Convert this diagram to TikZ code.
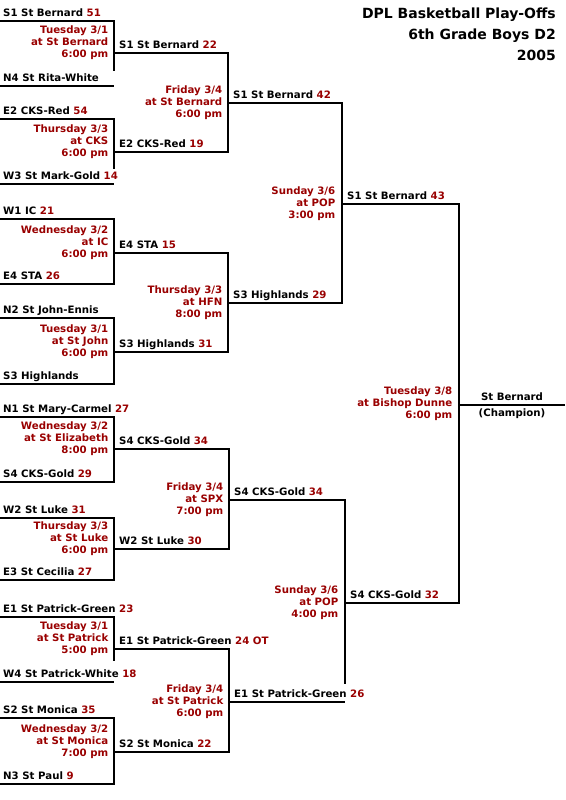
\documentclass[tikz,border=0pt]{standalone}
\usepackage{fontspec}
\setmainfont{DejaVu Sans}
\usepackage{tikz}
\definecolor{sched}{RGB}{153,0,0}
\newcommand{\pts}[1]{\textcolor{sched}{#1}}

\begin{document}
\begin{tikzpicture}[
    x=1pt, y=-1pt,
    bracket/.style={line width=2pt},
    seed/.style={anchor=base west, inner sep=0pt, xshift=3pt, yshift=4.4pt},
    team/.style={anchor=base west, inner sep=0pt, xshift=5pt, yshift=4.4pt},
    when/.style={anchor=base east, inner sep=0pt, align=right, text=sched, xshift=-5.5pt},
    early/.style={when, yshift=-4.3pt},
    late/.style={when, yshift=-14.3pt},
    font=\fontsize{10.2}{12}\selectfont\bfseries
]
    \useasboundingbox (0,0) rectangle (565,800);

    % 标题
    \node[anchor=base east, inner sep=0pt, align=right,
          font=\fontsize{14}{20.8}\selectfont\bfseries] (title) at (556,60)
        {DPL Basketball Play-Offs\\6th Grade Boys D2\\2005};

    % 第一轮位置 (16 个)
    \coordinate (s1)  at (0,20.7);
    \coordinate (s2)  at (0,85.7);
    \coordinate (s3)  at (0,119);
    \coordinate (s4)  at (0,184);
    \coordinate (s5)  at (0,219);
    \coordinate (s6)  at (0,284);
    \coordinate (s7)  at (0,318);
    \coordinate (s8)  at (0,384);
    \coordinate (s9)  at (0,417);
    \coordinate (s10) at (0,482);
    \coordinate (s11) at (0,517.7);
    \coordinate (s12) at (0,580);
    \coordinate (s13) at (0,617);
    \coordinate (s14) at (0,681.7);
    \coordinate (s15) at (0,717.7);
    \coordinate (s16) at (0,784);

    % 第二轮位置
    \coordinate (q1) at (114,53);
    \coordinate (q2) at (114,152);
    \coordinate (q3) at (114,252.7);
    \coordinate (q4) at (114,351.7);
    \coordinate (q5) at (114,449.3);
    \coordinate (q6) at (114,549.3);
    \coordinate (q7) at (114,649.3);
    \coordinate (q8) at (114,751.7);

    % 半决赛, 决赛, 冠军
    \coordinate (h1) at (228,103);
    \coordinate (h2) at (228,302.7);
    \coordinate (h3) at (229,500);
    \coordinate (h4) at (229,701.7);
    \coordinate (f1) at (342,203.7);
    \coordinate (f2) at (345,603.3);
    \coordinate (c)  at (459,405);
    \coordinate (ce) at (565,405);

    % --- 第一轮的线 ---
    \draw[bracket] (s1) -| (q1) -- ++(0,18);
    \draw[bracket] (s2) -- (s2 -| q1);
    \draw[bracket] (s3) -| (q2) -- ++(0,17);
    \draw[bracket] (s4) -- (s4 -| q2);
    \draw[bracket] (s5) -| (q3) |- (s6);
    \draw[bracket] (s7) -| (q4) |- (s8);
    \draw[bracket] (s9) -| (q5) |- (s10);
    \draw[bracket] (s11) -| (q6) |- (s12);
    \draw[bracket] (s13) -| (q7) -- ++(0,12);
    \draw[bracket] (s14) -- (s14 -| q7);
    \draw[bracket] (s15) -| (q8) |- (s16);

    % --- 后面几轮的线 ---
    \draw[bracket] (q1) -| (h1) |- (q2);
    \draw[bracket] (q3) -| (h2) |- (q4);
    \draw[bracket] (q5) -| (h3) |- (q6);
    \draw[bracket] (q7) -| (h4) |- (q8);
    \draw[bracket] (h1) -| (f1) |- (h2);
    \draw[bracket] (h3) -| (f2) -- ++(0,81);
    \draw[bracket] (h4) -- (h4 -| f2);
    \draw[bracket] (f1) -| (c) |- (f2);
    \draw[bracket] (c) -- (ce);

    % --- 第一轮球队 ---
    \node[seed] (t1)  at (s1)  {S1 St Bernard \pts{51}};
    \node[seed] (t2)  at (s2)  {N4 St Rita-White};
    \node[seed] (t3)  at (s3)  {E2 CKS-Red \pts{54}};
    \node[seed] (t4)  at (s4)  {W3 St Mark-Gold \pts{14}};
    \node[seed] (t5)  at (s5)  {W1 IC \pts{21}};
    \node[seed] (t6)  at (s6)  {E4 STA \pts{26}};
    \node[seed] (t7)  at (s7)  {N2 St John-Ennis};
    \node[seed] (t8)  at (s8)  {S3 Highlands};
    \node[seed] (t9)  at (s9)  {N1 St Mary-Carmel \pts{27}};
    \node[seed] (t10) at (s10) {S4 CKS-Gold \pts{29}};
    \node[seed] (t11) at (s11) {W2 St Luke \pts{31}};
    \node[seed] (t12) at (s12) {E3 St Cecilia \pts{27}};
    \node[seed] (t13) at (s13) {E1 St Patrick-Green \pts{23}};
    \node[seed] (t14) at (s14) {W4 St Patrick-White \pts{18}};
    \node[seed] (t15) at (s15) {S2 St Monica \pts{35}};
    \node[seed] (t16) at (s16) {N3 St Paul \pts{9}};

    % --- 第一轮时间地点 ---
    \node[early] (g1) at (q1) {Tuesday 3/1\\at St Bernard\\6:00 pm};
    \node[early] (g2) at (q2) {Thursday 3/3\\at CKS\\6:00 pm};
    \node[early] (g3) at (q3) {Wednesday 3/2\\at IC\\6:00 pm};
    \node[early] (g4) at (q4) {Tuesday 3/1\\at St John\\6:00 pm};
    \node[early] (g5) at (q5) {Wednesday 3/2\\at St Elizabeth\\8:00 pm};
    \node[early] (g6) at (q6) {Thursday 3/3\\at St Luke\\6:00 pm};
    \node[early] (g7) at (q7) {Tuesday 3/1\\at St Patrick\\5:00 pm};
    \node[early] (g8) at (q8) {Wednesday 3/2\\at St Monica\\7:00 pm};

    % --- 第二轮 ---
    \node[team] (w1) at (q1) {S1 St Bernard \pts{22}};
    \node[team] (w2) at (q2) {E2 CKS-Red \pts{19}};
    \node[team] (w3) at (q3) {E4 STA \pts{15}};
    \node[team] (w4) at (q4) {S3 Highlands \pts{31}};
    \node[team] (w5) at (q5) {S4 CKS-Gold \pts{34}};
    \node[team] (w6) at (q6) {W2 St Luke \pts{30}};
    \node[team] (w7) at (q7) {E1 St Patrick-Green \pts{24 OT}};
    \node[team] (w8) at (q8) {S2 St Monica \pts{22}};
    \node[late] (k1) at (h1) {Friday 3/4\\at St Bernard\\6:00 pm};
    \node[late] (k2) at (h2) {Thursday 3/3\\at HFN\\8:00 pm};
    \node[late] (k3) at (h3) {Friday 3/4\\at SPX\\7:00 pm};
    \node[late] (k4) at (h4) {Friday 3/4\\at St Patrick\\6:00 pm};

    % --- 半决赛 ---
    \node[team] (x1) at (h1) {S1 St Bernard \pts{42}};
    \node[team] (x2) at (h2) {S3 Highlands \pts{29}};
    \node[team] (x3) at (h3) {S4 CKS-Gold \pts{34}};
    \node[team] (x4) at (h4) {E1 St Patrick-Green \pts{26}};
    \node[late, xshift=-1pt] (m1) at (f1) {Sunday 3/6\\at POP\\3:00 pm};
    \node[late, xshift=-1pt] (m2) at (f2) {Sunday 3/6\\at POP\\4:00 pm};

    % --- 决赛 ---
    \node[team] (y1) at (f1) {S1 St Bernard \pts{43}};
    \node[team] (y2) at (f2) {S4 CKS-Gold \pts{32}};
    \node[late, xshift=-1pt, yshift=1.3pt] (fin) at (c) {Tuesday 3/8\\at Bishop Dunne\\6:00 pm};

    % --- 冠军 ---
    \node[anchor=base, inner sep=0pt, yshift=4.3pt] (champ) at (512,405) {St Bernard};
    \node[anchor=base, inner sep=0pt] (note) at (512,416.7) {(Champion)};

\end{tikzpicture}
\end{document}
